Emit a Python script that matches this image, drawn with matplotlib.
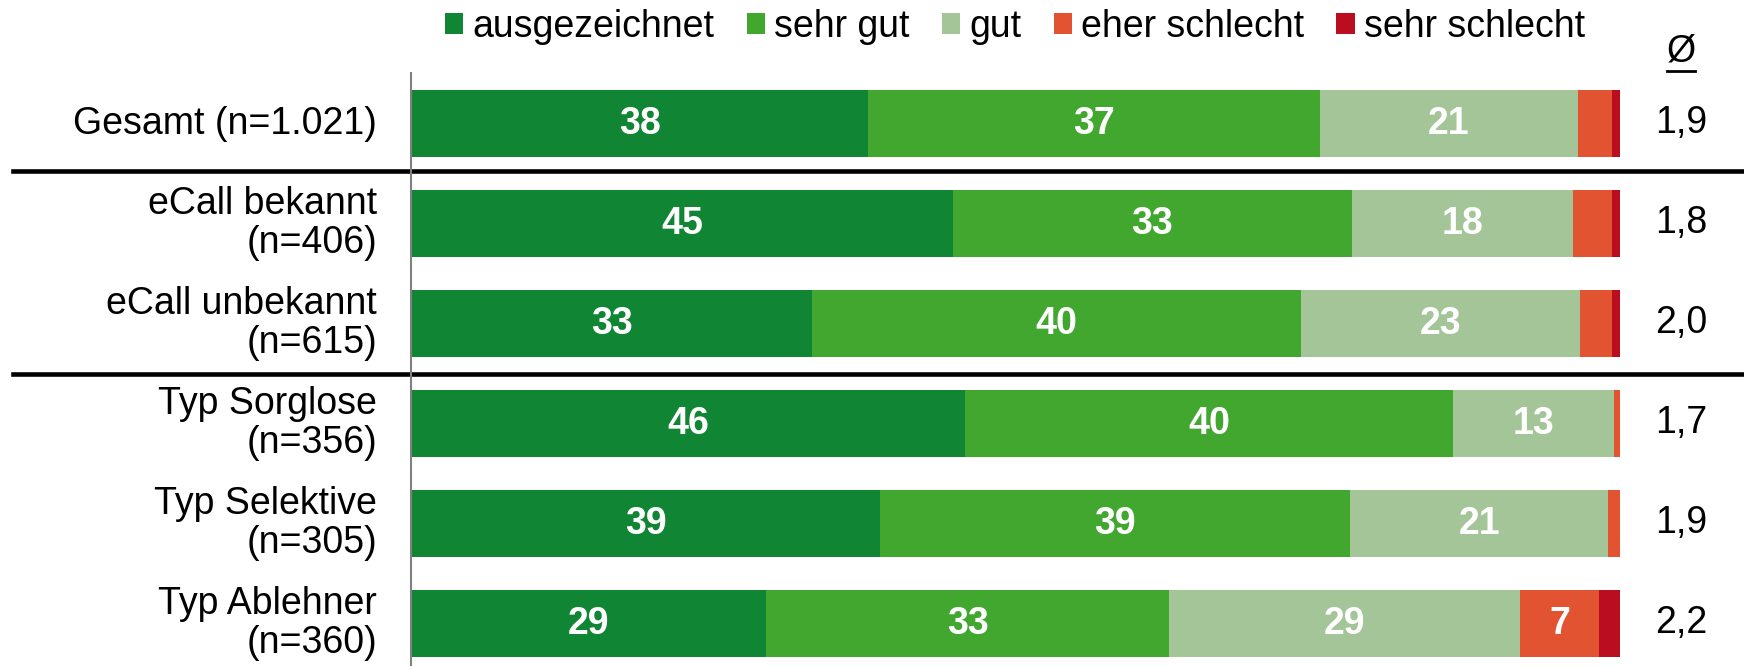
import matplotlib
matplotlib.use('Agg')
import matplotlib.pyplot as plt
from matplotlib.patches import Patch
from matplotlib.lines import Line2D
from matplotlib.transforms import blended_transform_factory

plt.rcParams['font.family'] = ['Liberation Sans', 'DejaVu Sans']

# data (shares in %)
groups = ['Gesamt (n=1.021)', 'eCall bekannt\n(n=406)', 'eCall unbekannt\n(n=615)',
          'Typ Sorglose\n(n=356)', 'Typ Selektive\n(n=305)', 'Typ Ablehner\n(n=360)']
categories = ['ausgezeichnet', 'sehr gut', 'gut', 'eher schlecht', 'sehr schlecht']
ausgezeichnet = [37.8, 44.8, 33.2, 45.8, 38.8, 29.4]
sehr_gut = [37.4, 33.0, 40.4, 40.4, 38.9, 33.3]
gut = [21.3, 18.3, 23.1, 13.3, 21.3, 29.0]
eher_schlecht = [2.8, 3.2, 2.6, 0.5, 1.0, 6.6]
sehr_schlecht = [0.7, 0.7, 0.7, 0.0, 0.0, 1.7]
means = [1.9, 1.8, 2.0, 1.7, 1.9, 2.2]

colors = ['#108533', '#41A72F', '#A4C598', '#E25332', '#BA0E20']
series = [ausgezeichnet, sehr_gut, gut, eher_schlecht, sehr_schlecht]

W, H = 1744, 666
FS = 27
fig = plt.figure(figsize=(W / 100, H / 100), dpi=100)
ax = fig.add_axes([411 / W, 0, (1620 - 411) / W, (H - 73) / H])

ypos = list(range(len(groups)))
left = [0] * len(groups)
for vals, col, name in zip(series, colors, categories):
    ax.barh(ypos, vals, left=left, height=0.67, color=col, linewidth=0, label=name)
    for y, l, v in zip(ypos, left, vals):
        if v >= 5:
            ax.text(l + v / 2, y, str(int(round(v))), ha='center', va='center',
                    color='white', fontsize=FS, fontweight='bold')
    left = [l + v for l, v in zip(left, vals)]

ax.set_xlim(0, 100)
ax.set_ylim(5.425, -0.505)
ax.set_xticks([])
ax.set_yticks([])
for s in ['top', 'right', 'bottom']:
    ax.spines[s].set_visible(False)
ax.spines['left'].set_color('#808080')
ax.spines['left'].set_linewidth(1.5)

blend = blended_transform_factory(fig.transFigure, ax.transData)

# group labels
for y, g in zip(ypos, groups):
    ax.text(377 / W, y, g, transform=blend, ha='right', va='center',
            fontsize=FS, linespacing=1.08, multialignment='right')

# mean column
for y, m in zip(ypos, means):
    ax.text(1681 / W, y, f'{m:.1f}'.replace('.', ','), transform=blend,
            ha='center', va='center', fontsize=FS)
fig.text(1681 / W, 1 - 51 / H, 'Ø', ha='center', va='center', fontsize=FS)
fig.add_artist(Line2D([1667 / W, 1695 / W], [1 - 71 / H, 1 - 71 / H], color='black', lw=2))

# separator lines
for yl in [0.47, 2.5]:
    ax.add_line(Line2D([13 / W, 1.0], [yl, yl], transform=blend, color='black',
                       lw=3.3, clip_on=False))

handles = [Patch(facecolor=c, label=n) for c, n in zip(colors, categories)]
fig.legend(handles=handles, loc='center left', bbox_to_anchor=(445 / W, 1 - 27 / H),
           ncol=5, frameon=False, fontsize=FS, handlelength=0.49, handleheight=0.49,
           handletextpad=0.25, columnspacing=0.85, borderpad=0, borderaxespad=0)

fig.savefig('out.png', dpi=100)
